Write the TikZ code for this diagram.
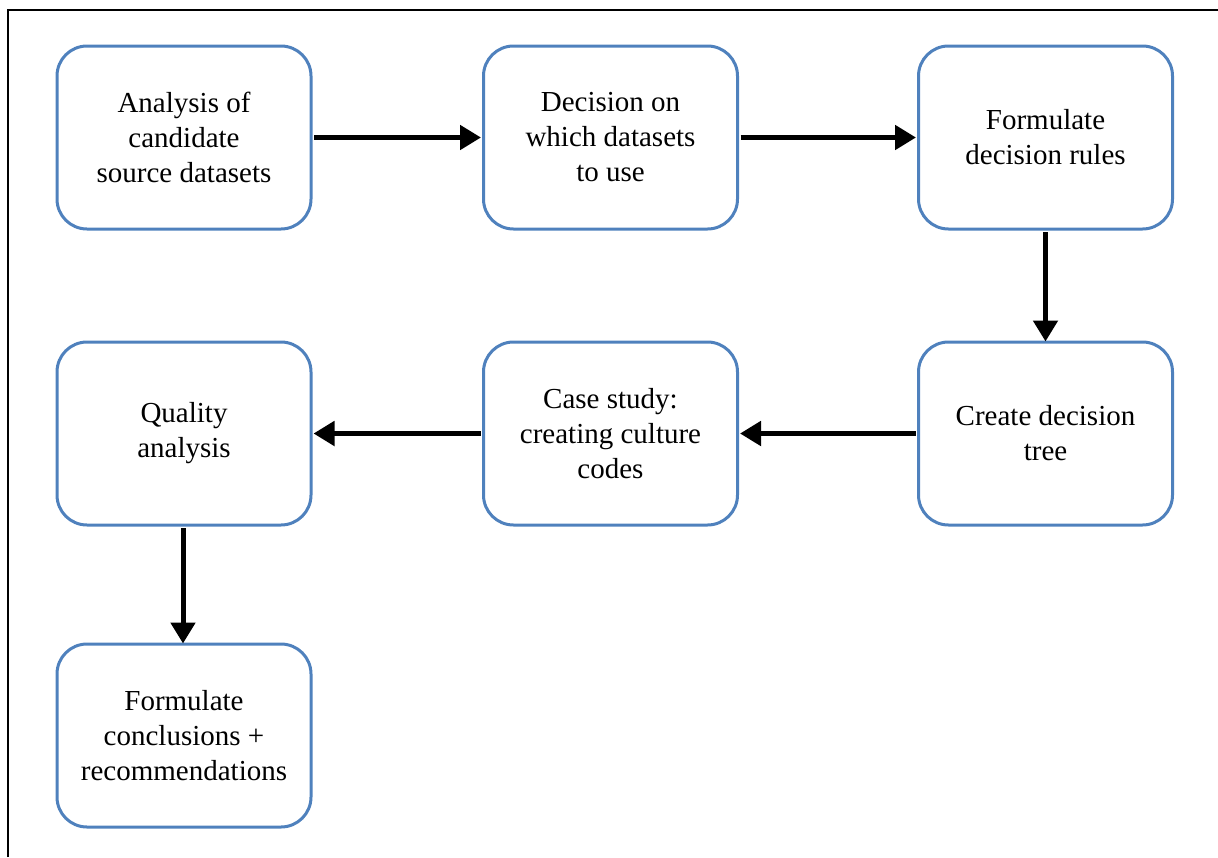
\documentclass[tikz,border=0pt]{standalone}
\usepackage{fontspec}
\setmainfont{Liberation Serif}
\usetikzlibrary{arrows.meta}
\definecolor{boxblue}{RGB}{79,129,189}
\begin{document}
\begin{tikzpicture}[x=1pt,y=-1pt,
  stepbox/.style={draw=boxblue,line width=3pt,rounded corners=30pt,
    minimum width=254pt,minimum height=183pt,align=center,inner sep=0pt,
    font=\fontsize{29}{35}\selectfont},
  flow/.style={line width=5pt,-{Triangle[length=21pt,width=24pt]}}]
\useasboundingbox (0,0) rectangle (1218,857);
% frame lines
\draw[line width=1.5pt] (8,857) -- (8,10) -- (1218,10);
% process steps
\node[stepbox] (a) at (184,137.5) {Analysis of\\candidate\\source datasets};
\node[stepbox] (b) at (610.5,137.5) {Decision on\\which datasets\\to use};
\node[stepbox] (c) at (1045.5,137.5) {Formulate\\decision rules};
\node[stepbox] (d) at (1045.5,433.5) {Create decision\\tree};
\node[stepbox] (e) at (610.5,433.5) {Case study:\\creating culture\\codes};
\node[stepbox] (f) at (184,433.5) {Quality\\analysis};
\node[stepbox] (g) at (184,735.5) {Formulate\\conclusions +\\recommendations};
% connectors
\draw[flow] (a.east) ++(1.5,0) -- ([xshift=-1pt]b.west);
\draw[flow] (b.east) ++(1.5,0) -- ([xshift=-1pt]c.west);
\draw[flow] (c.south) ++(0,1.5) -- ([yshift=-1pt]d.north);
\draw[flow] (d.west) ++(-1.5,0) -- ([xshift=1pt]e.east);
\draw[flow] (e.west) ++(-1.5,0) -- ([xshift=1pt]f.east);
\draw[flow] ([xshift=-1pt]f.south) ++(0,1.5) -- ([xshift=-1pt,yshift=-1pt]g.north);
\end{tikzpicture}
\end{document}
